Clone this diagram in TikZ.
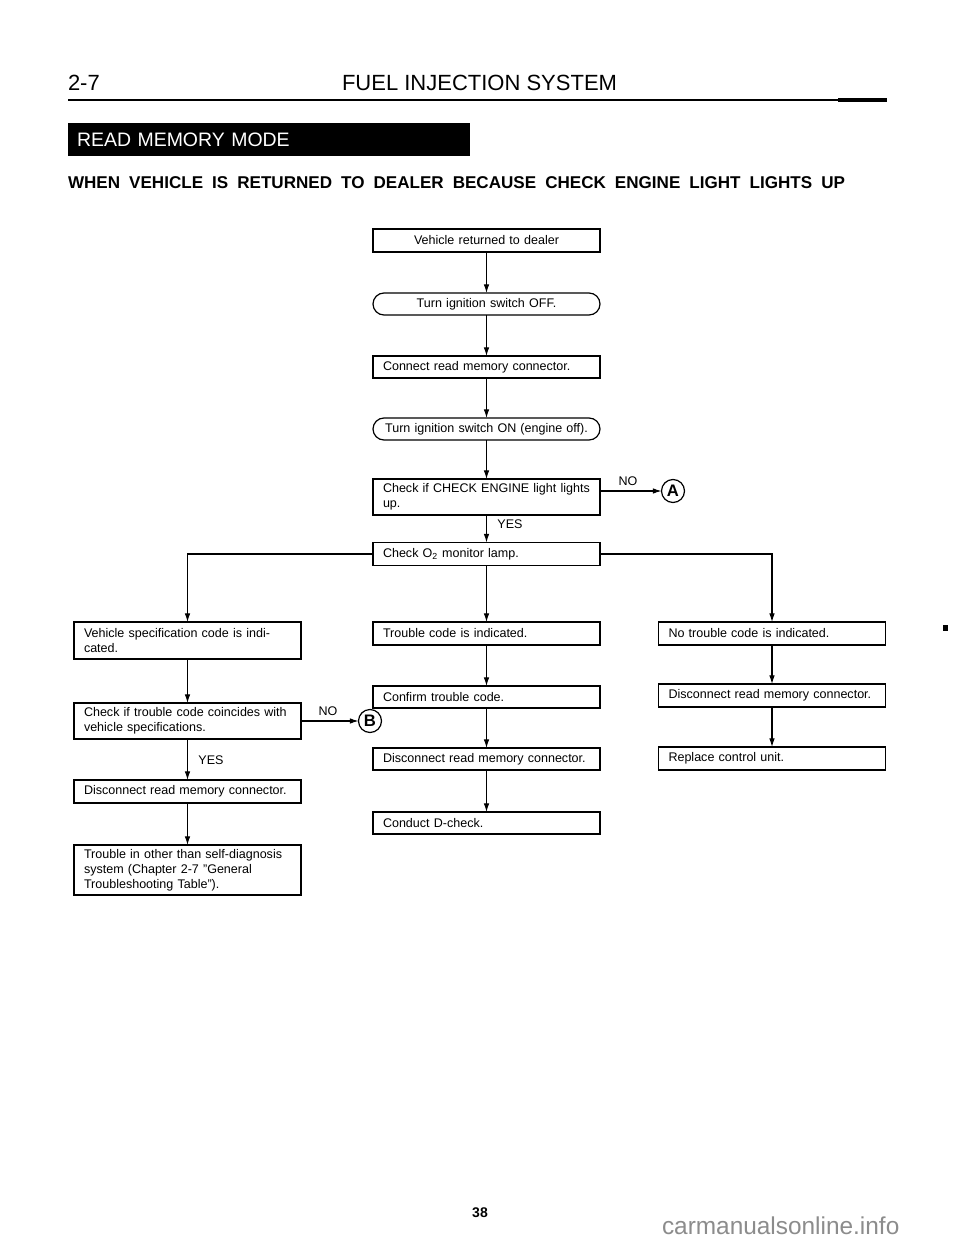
\documentclass[tikz,border=0pt]{standalone}
\usepackage{fontspec}
\setmainfont{Liberation Sans}
\usetikzlibrary{arrows.meta}
\begin{document}
\begin{tikzpicture}[x=0.75pt,y=-0.75pt,
  every node/.style={inner sep=0pt, outer sep=0pt},
  fbox/.style={draw, line width=0.9pt, rectangle, inner xsep=7.5pt, inner ysep=0pt,
    text width=155.25pt, align=left, font=\fontsize{9.4pt}{11.2pt}\selectfont},
  cbox/.style={fbox, align=center},
  sbox/.style={fbox, align=center, rounded corners=8.25pt},
  arr/.style={-{Latex[length=6.5pt,width=4.2pt]}, line width=0.8pt},
  lbl/.style={font=\fontsize{9.4pt}{11pt}\selectfont},
  conn/.style={draw, circle, line width=0.9pt, minimum size=17.25pt,
    font=\fontsize{12.5pt}{12.5pt}\selectfont\bfseries}
]
\useasboundingbox (0,0) rectangle (960,1241);
\fill[white] (0,0) rectangle (960,1241);

% header
\node[anchor=west, font=\fontsize{16.5pt}{16.5pt}\selectfont] (pg) at (68,83) {2-7};
\node[anchor=west, font=\fontsize{16.5pt}{16.5pt}\selectfont] (title) at (342,83) {FUEL INJECTION SYSTEM};
\draw[line width=1.8pt] (68,100) -- (887,100);
\draw[line width=2.6pt] (838,100) -- (887,100);
\node[fill=black, text=white, anchor=north west, minimum height=24.75pt, text width=288pt,
  inner xsep=6.75pt, align=left, font=\fontsize{14.6pt}{14.6pt}\selectfont] (banner) at (68,123) {READ MEMORY MODE};
\node[anchor=west, font=\bfseries\fontsize{12.8pt}{13pt}\selectfont] (sub) at (68,183)
  {\makebox[582.75pt][s]{WHEN VEHICLE IS RETURNED TO DEALER BECAUSE CHECK ENGINE LIGHT LIGHTS UP}};

% centre column
\node[cbox, minimum height=17.25pt] (n1) at (486.5,240.5) {Vehicle returned to dealer};
\node[sbox, minimum height=16.5pt] (n2) at (486.5,304) {Turn ignition switch OFF.};
\node[fbox, minimum height=16.5pt] (n3) at (486.5,367) {Connect read memory connector.};
\node[sbox, minimum height=16.5pt] (n4) at (486.5,429) {Turn ignition switch ON (engine off).};
\node[fbox, minimum height=27pt] (n5) at (486.5,497) {Check if CHECK ENGINE light lights\\up.};
\node[fbox, minimum height=17.25pt] (n6) at (486.5,554) {Check O\textsubscript{2} monitor lamp.};
\node[fbox, minimum height=17.25pt] (n7) at (486.5,633.5) {Trouble code is indicated.};
\node[fbox, minimum height=16.5pt] (n8) at (486.5,697) {Confirm trouble code.};
\node[fbox, minimum height=16.5pt] (n9) at (486.5,759) {Disconnect read memory connector.};
\node[fbox, minimum height=16.5pt] (n10) at (486.5,823) {Conduct D-check.};

% right column
\node[fbox, minimum height=17.25pt] (r1) at (772,633.5) {No trouble code is indicated.};
\node[fbox, minimum height=17.25pt] (r2) at (772,695.5) {Disconnect read memory connector.};
\node[fbox, minimum height=17.25pt] (r3) at (772,758.5) {Replace control unit.};

% left column
\node[fbox, minimum height=27.75pt] (l1) at (187.5,640.5) {Vehicle specification code is indi-\\cated.};
\node[fbox, minimum height=27pt] (l2) at (187.5,721) {Check if trouble code coincides with\\vehicle specifications.};
\node[fbox, minimum height=17.25pt] (l3) at (187.5,791.5) {Disconnect read memory connector.};
\node[fbox, minimum height=37.5pt] (l4) at (187.5,870) {Trouble in other than self-diagnosis\\system (Chapter 2-7 "General\\Troubleshooting Table").};

% connectors
\node[conn] (A) at (673,491) {A};
\node[conn] (B) at (370,721) {B};
\draw[arr] (n1) -- (n2);
\draw[arr] (n2) -- (n3);
\draw[arr] (n3) -- (n4);
\draw[arr] (n4) -- (n5);
\draw[arr] (n5) -- (n6);
\draw[arr] (n6) -- (n7);
\draw[arr] (n7) -- (n8);
\draw[arr] (n8) -- (n9);
\draw[arr] (n9) -- (n10);
\draw[arr] (n6.west) -| (l1.north);
\draw[arr] (n6.east) -| (r1.north);
\draw[arr] (r1) -- (r2);
\draw[arr] (r2) -- (r3);
\draw[arr] (l1) -- (l2);
\draw[arr] (l2) -- (l3);
\draw[arr] (l3) -- (l4);
\draw[arr] (A -| n5.east) -- (A.west);
\draw[arr] (l2.east) -- (B.west);

% labels
\node[lbl] (noA) at (628,481) {NO};
\node[lbl] (yesC) at (510,524) {YES};
\node[lbl] (noB) at (328,711) {NO};
\node[lbl] (yesL) at (211,760) {YES};

% page footer
\node[font=\bfseries\fontsize{10.5pt}{10.5pt}\selectfont] (pnum) at (480,1213) {38};
\node[anchor=west, text=black!45, font=\fontsize{18.3pt}{18.3pt}\selectfont] (wm) at (662,1226) {carmanualsonline.info};
\fill (943,625) rectangle (948,631);
\end{tikzpicture}
\end{document}
